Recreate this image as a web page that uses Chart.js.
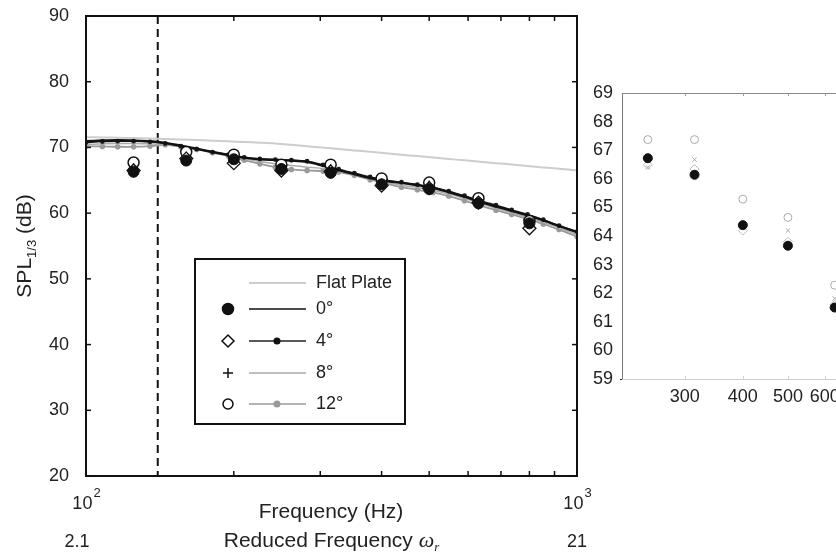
<!DOCTYPE html>
<html>
<head>
<meta charset="utf-8">
<script src="https://cdn.jsdelivr.net/npm/chart.js@4.4.0/dist/chart.umd.min.js"></script>
<style>
 html, body { margin: 0; padding: 0; background: #fff; }
 #wrap { position: relative; width: 836px; height: 557px; overflow: hidden; }
 #main { position: absolute; left: 0; top: 0; }
 #inset { position: absolute; left: 560px; top: 60px; }
</style>
</head>
<body>
<div id="wrap">
 <canvas id="main" width="836" height="557"></canvas>
 <canvas id="inset" width="400" height="360"></canvas>
</div>
<script>
// sampled frequencies of the prediction curves (Hz)
var curveFreq = [100, 108, 116, 125, 135, 145, 156, 168, 181, 195, 210, 226, 243, 262, 282, 304,
 327, 352, 379, 408, 439, 473, 509, 548, 590, 635, 684, 736, 793, 854, 919, 1000];

var flatPlate = [71.55, 71.52, 71.48, 71.42, 71.36, 71.3, 71.22, 71.13, 71.03, 70.93, 70.83, 70.72, 70.6, 70.4, 70.18, 69.97,
 69.75, 69.55, 69.33, 69.12, 68.9, 68.68, 68.47, 68.25, 68.04, 67.83, 67.61, 67.4, 67.17, 66.96, 66.75, 66.5];
var curve0 = [70.95, 71.05, 71.1, 71.05, 70.95, 70.7, 70.25, 69.8, 69.3, 68.85, 68.45, 68.2, 68.1, 68.0, 67.8, 67.2,
 66.55, 65.95, 65.35, 64.9, 64.6, 64.25, 63.85, 63.2, 62.5, 61.7, 61.0, 60.35, 59.65, 58.9, 58.05, 57.1];
var curve4 = [70.75, 70.9, 70.95, 70.95, 70.85, 70.6, 70.2, 69.75, 69.3, 68.9, 68.5, 68.25, 68.15, 68.05, 67.9, 67.35,
 66.7, 66.1, 65.5, 65.0, 64.7, 64.35, 63.95, 63.35, 62.65, 61.9, 61.2, 60.5, 59.8, 59.0, 58.1, 57.2];
var curve8 = [70.45, 70.55, 70.6, 70.6, 70.55, 70.45, 70.15, 69.75, 69.25, 68.8, 68.3, 67.85, 67.5, 67.25, 67.0, 66.8,
 66.4, 65.85, 65.25, 64.7, 64.25, 63.9, 63.5, 62.95, 62.25, 61.5, 60.75, 60.05, 59.35, 58.6, 57.75, 56.75];
var curve12 = [70.2, 70.15, 70.1, 70.1, 70.2, 70.4, 70.1, 69.7, 69.2, 68.7, 68.05, 67.5, 67.0, 66.65, 66.5, 66.4,
 66.25, 65.75, 65.1, 64.5, 63.95, 63.55, 63.15, 62.6, 61.9, 61.15, 60.45, 59.8, 59.1, 58.35, 57.5, 56.45];

// measured 1/3 octave bands
var bands = [125, 160, 200, 250, 315, 400, 500, 630, 800];
var spl0 = [66.3, 68.0, 68.2, 66.72, 66.14, 64.38, 63.66, 61.5, 58.45];
var spl4 = [66.5, 68.3, 67.6, 66.49, 66.34, 64.19, 63.8, 61.6, 57.7];
var spl8 = [66.8, 68.6, 68.0, 66.4, 66.67, 64.3, 64.19, 61.82, 58.3];
var spl12 = [67.7, 69.3, 68.9, 67.37, 67.37, 65.29, 64.65, 62.28, 58.8];

var cutoffFreq = 140;

var mainYTicks = [20, 30, 40, 50, 60, 70, 80, 90];
var mainMinorX = [200, 300, 400, 500, 600, 700, 800, 900];
var mainDecades = [100, 1000];
var decadeExps = ["2", "3"];
var reducedLabels = ["2.1", "21"];
var legendNames = ["Flat Plate", "0°", "4°", "8°", "12°"];

var insetYTicks = [59, 60, 61, 62, 63, 64, 65, 66, 67, 68, 69];
var insetXTicks = [300, 400, 500, 600];

var FONT = "'Liberation Sans', Arial, sans-serif";

function pts(xs, ys) {
 return xs.map(function (x, i) {
  return { x: x, y: ys[i] };
 });
}

function seg(ctx, x1, y1, x2, y2) {
 ctx.beginPath();
 ctx.moveTo(x1, y1);
 ctx.lineTo(x2, y2);
 ctx.stroke();
}

function mark(ctx, style, r, fill, stroke, bw, x, y) {
 ctx.save();
 ctx.fillStyle = fill;
 ctx.strokeStyle = stroke;
 Chart.helpers.drawPoint(ctx, { pointStyle: style, radius: r, borderWidth: bw, rotation: 0 }, x, y);
 ctx.restore();
}

var mainDecor = {
 id: "mainDecor",
 beforeDatasetsDraw: function (chart) {
  var ctx = chart.ctx, a = chart.chartArea;
  var px = chart.scales.x.getPixelForValue(cutoffFreq);
  ctx.save();
  ctx.strokeStyle = "#111";
  ctx.lineWidth = 2;
  ctx.setLineDash([8, 5]);
  seg(ctx, px, a.top, px, a.bottom);
  ctx.restore();
 },
 afterDraw: function (chart) {
  var ctx = chart.ctx, a = chart.chartArea;
  var xs = chart.scales.x, ys = chart.scales.y;
  ctx.save();
  ctx.strokeStyle = "#111";
  ctx.lineWidth = 2;
  ctx.strokeRect(a.left, a.top, a.right - a.left, a.bottom - a.top);

  ctx.lineWidth = 1.5;
  mainMinorX.forEach(function (f) {
   var px = xs.getPixelForValue(f);
   seg(ctx, px, a.bottom, px, a.bottom - 5);
   seg(ctx, px, a.top, px, a.top + 5);
  });
  mainYTicks.forEach(function (v) {
   var py = ys.getPixelForValue(v);
   seg(ctx, a.left, py, a.left + 5, py);
   seg(ctx, a.right, py, a.right - 5, py);
  });

  ctx.fillStyle = "#222";
  ctx.font = "18px " + FONT;
  ctx.textAlign = "right";
  ctx.textBaseline = "middle";
  mainYTicks.forEach(function (v) {
   ctx.fillText(String(v), a.left - 17, ys.getPixelForValue(v));
  });

  // decade labels 10^2, 10^3 and reduced frequency values
  ctx.textBaseline = "alphabetic";
  ctx.textAlign = "left";
  mainDecades.forEach(function (f, i) {
   var px = xs.getPixelForValue(f);
   ctx.font = "18px " + FONT;
   var w1 = ctx.measureText("10").width;
   ctx.font = "13px " + FONT;
   var w2 = ctx.measureText(decadeExps[i]).width;
   var x0 = px - (w1 + w2) / 2;
   ctx.font = "18px " + FONT;
   ctx.fillText("10", x0, 509);
   ctx.font = "13px " + FONT;
   ctx.fillText(decadeExps[i], x0 + w1 + 1, 497);
   ctx.font = "18px " + FONT;
   ctx.textAlign = "center";
   ctx.fillText(reducedLabels[i], px - (i === 0 ? 9 : 0), 547);
   ctx.textAlign = "left";
  });

  ctx.font = "21px " + FONT;
  ctx.textAlign = "center";
  ctx.fillText("Frequency (Hz)", 331, 518);

  // Reduced Frequency omega_r
  var t1 = "Reduced Frequency ";
  ctx.font = "21px " + FONT;
  var wa = ctx.measureText(t1).width;
  ctx.font = "italic 22px 'Liberation Serif', serif";
  var wb = ctx.measureText("ω").width;
  var x0 = 332 - (wa + wb + 6) / 2;
  ctx.textAlign = "left";
  ctx.font = "21px " + FONT;
  ctx.fillText(t1, x0, 547);
  ctx.font = "italic 22px 'Liberation Serif', serif";
  ctx.fillText("ω", x0 + wa, 547);
  ctx.font = "italic 13px 'Liberation Serif', serif";
  ctx.fillText("r", x0 + wa + wb, 551);

  // y title SPL_1/3 (dB)
  ctx.save();
  ctx.translate(31, 246);
  ctx.rotate(-Math.PI / 2);
  ctx.font = "21px " + FONT;
  var s1 = ctx.measureText("SPL").width;
  var s3 = ctx.measureText(" (dB)").width;
  ctx.font = "13px " + FONT;
  var s2 = ctx.measureText("1/3").width;
  var ys0 = -(s1 + s2 + s3) / 2;
  ctx.font = "21px " + FONT;
  ctx.fillText("SPL", ys0, 0);
  ctx.font = "13px " + FONT;
  ctx.fillText("1/3", ys0 + s1, 5);
  ctx.font = "21px " + FONT;
  ctx.fillText(" (dB)", ys0 + s1 + s2, 0);
  ctx.restore();

  // legend
  var lx = 195, ly = 259, lw = 210, lh = 165;
  ctx.fillStyle = "#fff";
  ctx.fillRect(lx, ly, lw, lh);
  ctx.strokeStyle = "#111";
  ctx.lineWidth = 2;
  ctx.strokeRect(lx, ly, lw, lh);
  var rows = [283, 309, 341, 373, 404];
  var lineCols = ["#cdcdcd", "#111", "#222", "#aaa", "#9a9a9a"];
  rows.forEach(function (ry, i) {
   ctx.strokeStyle = lineCols[i];
   ctx.lineWidth = i === 0 ? 2 : 1.5;
   seg(ctx, 249, ry, 306, ry);
  });
  mark(ctx, "circle", 2.8, "#111", "#111", 1, 277, rows[2]);
  mark(ctx, "circle", 2.8, "#9a9a9a", "#9a9a9a", 1, 277, rows[4]);
  mark(ctx, "circle", 5.5, "#111", "#111", 1, 228, rows[1]);
  mark(ctx, "rectRot", 6, "#fff", "#111", 1.3, 228, rows[2]);
  mark(ctx, "cross", 5, "#111", "#111", 1.3, 228, rows[3]);
  mark(ctx, "circle", 5, "#fff", "#111", 1.5, 228, rows[4]);
  ctx.fillStyle = "#222";
  ctx.font = "18px " + FONT;
  ctx.textAlign = "left";
  ctx.textBaseline = "middle";
  legendNames.forEach(function (name, i) {
   ctx.fillText(name, 316, rows[i]);
  });
  ctx.restore();
 }
};

var insetDecor = {
 id: "insetDecor",
 afterDraw: function (chart) {
  var ctx = chart.ctx, a = chart.chartArea;
  var xs = chart.scales.x, ys = chart.scales.y;
  ctx.save();
  ctx.lineWidth = 1;
  ctx.strokeStyle = "#d0d0d0";
  seg(ctx, a.left, a.bottom + 0.5, a.right, a.bottom + 0.5);
  ctx.strokeStyle = "#8a8a8a";
  seg(ctx, a.left, a.top + 0.5, a.right, a.top + 0.5);
  ctx.strokeStyle = "#777";
  seg(ctx, a.left + 0.5, a.top, a.left + 0.5, a.bottom);
  insetXTicks.forEach(function (f) {
   var px = Math.round(xs.getPixelForValue(f)) + 0.5;
   ctx.strokeStyle = "#999";
   seg(ctx, px, a.top, px, a.top + 3);
   ctx.strokeStyle = "#d0d0d0";
   seg(ctx, px, a.bottom, px, a.bottom - 3);
  });
  ctx.strokeStyle = "#222";
  seg(ctx, a.left - 2, a.bottom + 0.5, a.left, a.bottom + 0.5);

  ctx.fillStyle = "#222";
  ctx.font = "18px " + FONT;
  ctx.textAlign = "right";
  ctx.textBaseline = "middle";
  insetYTicks.forEach(function (v) {
   ctx.fillText(String(v), a.left - 9, ys.getPixelForValue(v));
  });
  ctx.textAlign = "center";
  insetXTicks.forEach(function (f) {
   ctx.fillText(String(f), xs.getPixelForValue(f), a.bottom + 18);
  });
  ctx.restore();
 }
};

function scatterSet(data, style, r, fill, stroke, bw, order) {
 return {
  data: data,
  showLine: false,
  pointStyle: style,
  pointRadius: r,
  pointBackgroundColor: fill,
  pointBorderColor: stroke,
  pointBorderWidth: bw,
  order: order
 };
}

function curveSet(data, color, width, dotR, order) {
 return {
  data: data,
  showLine: true,
  borderColor: color,
  borderWidth: width,
  pointRadius: dotR,
  pointBackgroundColor: color,
  pointBorderWidth: 0,
  tension: 0.3,
  order: order
 };
}

var commonOpts = {
 responsive: false,
 animation: false,
 events: [],
 plugins: { legend: { display: false }, tooltip: { enabled: false } }
};

new Chart(document.getElementById("main"), {
 type: "scatter",
 data: {
  datasets: [
   scatterSet(pts(bands, spl0), "circle", 5.5, "#111", "#111", 1, 0),
   scatterSet(pts(bands, spl4), "rectRot", 6.5, "#fff", "#111", 1.3, 1),
   scatterSet(pts(bands, spl8), "cross", 5, "#111", "#111", 1.3, 2),
   scatterSet(pts(bands, spl12), "circle", 5.5, "#fff", "#111", 1.5, 3),
   curveSet(pts(curveFreq, curve0), "#111", 2.4, 0, 4),
   curveSet(pts(curveFreq, curve4), "#1a1a1a", 1.5, 2.4, 5),
   curveSet(pts(curveFreq, curve8), "#aaa", 1.5, 0, 6),
   curveSet(pts(curveFreq, curve12), "#9a9a9a", 1.8, 2.8, 7),
   curveSet(pts(curveFreq, flatPlate), "#cdcdcd", 2, 0, 8)
  ]
 },
 options: Object.assign({}, commonOpts, {
  layout: { padding: { left: 86, top: 16, right: 259, bottom: 81 } },
  scales: {
   x: { type: "logarithmic", min: 100, max: 1000, display: false },
   y: { type: "linear", min: 20, max: 90, display: false }
  }
 }),
 plugins: [mainDecor]
});

function insetSet(data, style, r, fill, stroke, bw, order) {
 var ds = scatterSet(data, style, r, fill, stroke, bw, order);
 ds.clip = 0;
 return ds;
}

new Chart(document.getElementById("inset"), {
 type: "scatter",
 data: {
  datasets: [
   insetSet(pts(bands, spl0), "circle", 4.5, "#111", "#111", 1, 0),
   insetSet(pts(bands, spl12), "circle", 4, "#fff", "#aaa", 1, 1),
   insetSet(pts(bands, spl8), "crossRot", 3, "#aaa", "#aaa", 1, 2),
   insetSet(pts(bands, spl4), "rectRot", 4.5, "#fff", "#bbb", 1, 3)
  ]
 },
 options: Object.assign({}, commonOpts, {
  layout: { padding: { left: 62, top: 33, right: 32, bottom: 41 } },
  scales: {
   x: { type: "logarithmic", min: 220, max: 1000, display: false },
   y: { type: "linear", min: 59, max: 69, display: false }
  }
 }),
 plugins: [insetDecor]
});
</script>
</body>
</html>
